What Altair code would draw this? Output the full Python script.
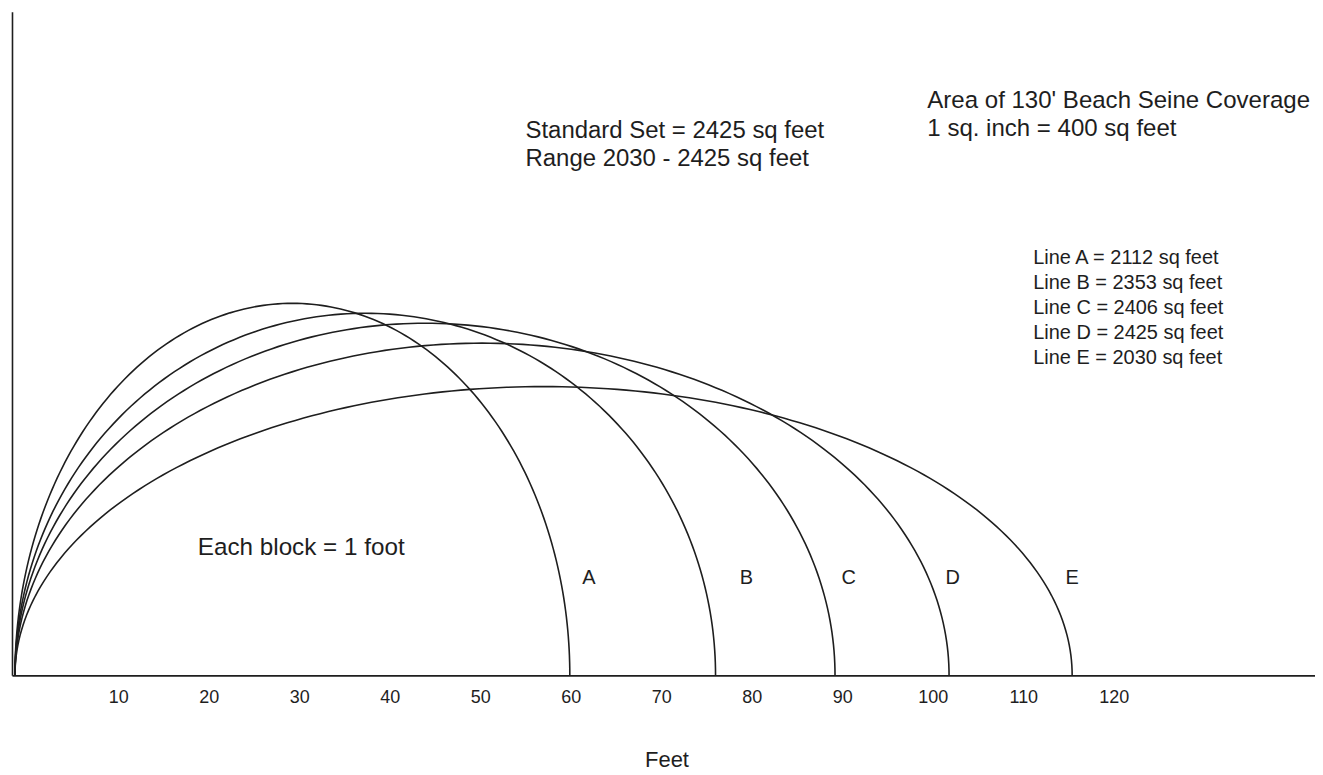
import altair as alt
import numpy as np
import pandas as pd

# ---- data ----
curve_names = ["A", "B", "C", "D", "E"]
curve_start_ft = -1.4
curve_end_ft = [59.9, 76.0, 89.2, 101.8, 115.4]
curve_peak_ft = [41.1, 40.0, 38.9, 36.7, 31.9]
curve_area_sqft = [2112, 2353, 2406, 2425, 2030]
label_x_ft = [62.0, 79.4, 90.7, 102.2, 115.4]
tick_values = [10, 20, 30, 40, 50, 60, 70, 80, 90, 100, 110, 120]

FONT = "Liberation Sans"
INK = "#1e1e1e"

angles = list(np.linspace(0, np.pi, 181))
curves = pd.DataFrame({"curve": curve_names, "end": curve_end_ft, "peak": curve_peak_ft})
curves["t"] = [angles] * len(curves)

xscale = alt.Scale(domain=[-1.73, 142.23], nice=False, zero=False)
yscale = alt.Scale(domain=[0, 73.3], nice=False, zero=False)

xaxis = alt.Axis(values=tick_values, ticks=False, grid=False, labelFont=FONT, labelFontSize=18,
                 labelColor=INK, labelPadding=13, domainColor=INK, domainWidth=1.6,
                 title="Feet", titleFont=FONT, titleFontSize=22, titleFontWeight="normal",
                 titleColor=INK, titlePadding=43, titleX=656, labelFlush=False)
yaxis = alt.Axis(labels=False, ticks=False, grid=False, title=None, domainColor=INK, domainWidth=1.6)

lines = alt.Chart(curves).transform_flatten(["t"]).transform_calculate(
    x=f"{curve_start_ft} + (datum.end - ({curve_start_ft})) * (1 - cos(datum.t)) / 2",
    y="datum.peak * sin(datum.t)",
).mark_line(color=INK, strokeWidth=1.6).encode(
    x=alt.X("x:Q", scale=xscale, axis=xaxis),
    y=alt.Y("y:Q", scale=yscale, axis=yaxis),
    detail="curve:N",
    order="t:Q",
)

letters = alt.Chart(pd.DataFrame({"curve": curve_names, "lx": label_x_ft})).mark_text(
    font=FONT, fontSize=20, color=INK, align="center", baseline="middle"
).encode(x=alt.X("lx:Q", scale=xscale), y=alt.datum(10.7), text="curve:N")

legend_df = pd.DataFrame({
    "txt": [f"Line {n} = {a} sq feet" for n, a in zip(curve_names, curve_area_sqft)],
    "row": list(range(len(curve_names))),
})
legend_text = alt.Chart(legend_df).transform_calculate(
    ly="46.1 - datum.row * 2.76"
).mark_text(font=FONT, fontSize=20, color=INK, align="left", baseline="middle").encode(
    x=alt.datum(111.1), y=alt.Y("ly:Q", scale=yscale), text="txt:N"
)


def note(text, x, y, size):
    return alt.Chart(pd.DataFrame({"t": [text]})).mark_text(
        font=FONT, fontSize=size, color=INK, align="left", baseline="middle"
    ).encode(x=alt.datum(x), y=alt.datum(y), text="t:N")


notes = [
    note("Area of 130' Beach Seine Coverage", 99.4, 63.5, 24.1),
    note("1 sq. inch = 400 sq feet", 99.4, 60.4, 24.1),
    note("Standard Set = 2425 sq feet", 55.0, 60.1, 24),
    note("Range 2030 - 2425 sq feet", 55.0, 57.0, 24),
    note("Each block = 1 foot", 18.8, 14.1, 24.3),
]

chart = alt.layer(lines, letters, legend_text, *notes).properties(
    width=1306, height=665,
    autosize=alt.AutoSizeParams(type="none"),
    padding={"left": 4, "top": 3, "right": 0, "bottom": 95},
    background="white",
).configure_view(stroke=None)

chart.save("out.html", embed_options={"renderer": "svg", "actions": False})
